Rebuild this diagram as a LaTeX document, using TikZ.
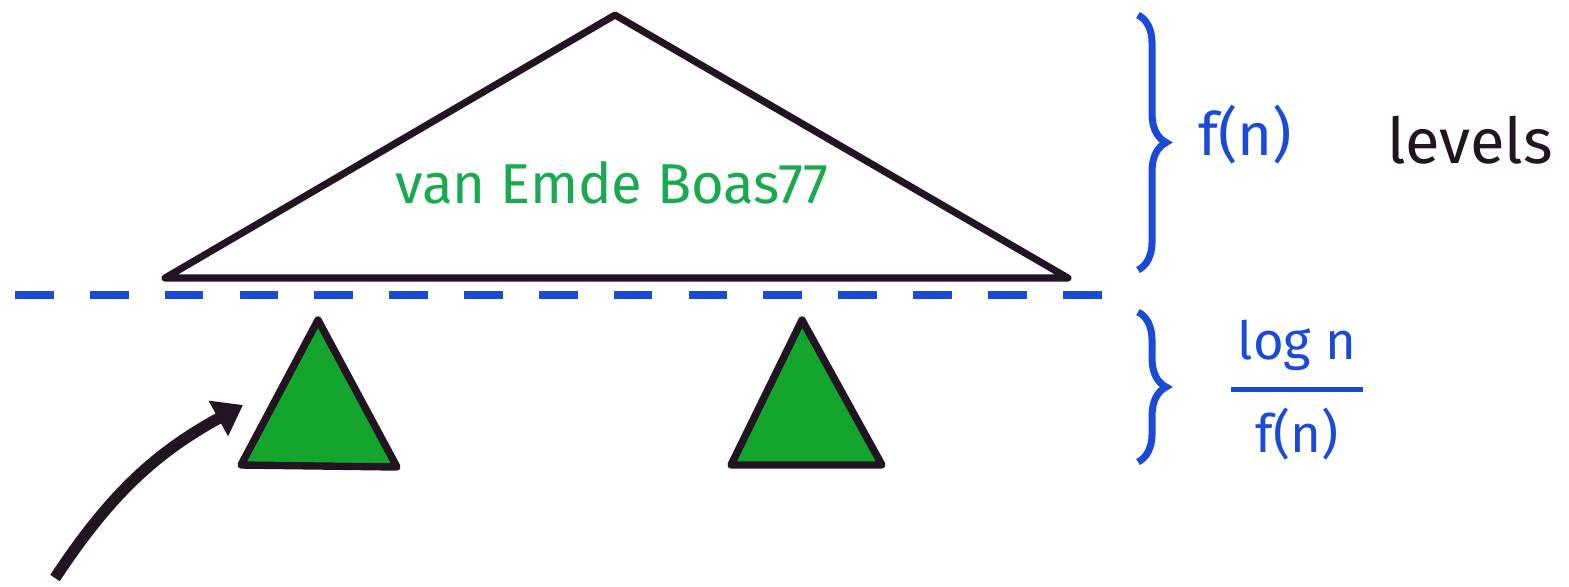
\documentclass[tikz,border=0pt]{standalone}
\usepackage{amsmath}
\usepackage{fontspec}
\setmainfont{Fira Sans}
\usetikzlibrary{decorations.pathreplacing,arrows.meta}
\definecolor{penblue}{RGB}{25,75,215}
\definecolor{pengreen}{RGB}{25,170,80}
\definecolor{fillgreen}{RGB}{20,165,45}
\definecolor{penblack}{RGB}{35,20,35}
\tikzset{
  tree/.style={draw=penblack, line width=4pt, line join=round},
  subtree/.style={draw=penblack, fill=fillgreen, line width=4.2pt, line join=round},
  bracebig/.style={decorate, decoration={brace, amplitude=16pt}, draw=penblue, line width=4pt}
}
\begin{document}
\begin{tikzpicture}[x=0.02cm, y=-0.02cm]
      \useasboundingbox (0, 0) rectangle (1569, 586);
      \coordinate (top) at (615, 15);
      \coordinate (bl) at (165, 278);
      \coordinate (br) at (1068, 278);
      \draw[tree] (top) -- (bl) -- (br) -- cycle;
      \node[text=pengreen, font=\fontsize{32}{38}\selectfont] (veb) at (612, 183) {van Emde Boas77};
      \draw[penblue, line width=4.5pt, dash pattern=on 22pt off 20.6pt] (15, 295) -- (1110, 295);
      \coordinate (a1) at (318, 320);
      \coordinate (b1) at (241, 465);
      \coordinate (c1) at (397, 467);
      \coordinate (a2) at (802, 320);
      \coordinate (b2) at (731, 465);
      \coordinate (c2) at (882, 465);
      \draw[subtree] (a1) -- (b1) -- (c1) -- cycle;
      \draw[subtree] (a2) -- (b2) -- (c2) -- cycle;
      \coordinate (from) at (55, 578);
      \coordinate (to) at (243, 405);
      \draw[penblack, line width=6.5pt, -{Triangle[length=16pt, width=22pt]}] (from) to[bend left=14] (to);
      \draw[bracebig] (1138, 15) -- (1138, 270);
      \draw[bracebig] (1138, 312) -- (1138, 462);
      \node[text=penblue, font=\fontsize{34}{40}\selectfont] (fn) at (1245, 135) {f(n)};
      \node[text=penblack, font=\fontsize{36}{42}\selectfont] (lev) at (1470, 140) {levels};
      \node[text=penblue, font=\fontsize{30}{34}\selectfont] (frac) at (1297, 390) {$\genfrac{}{}{3pt}{0}{\,\mbox{log n}\,}{\mbox{f(n)}}$};
    \end{tikzpicture}
\end{document}
